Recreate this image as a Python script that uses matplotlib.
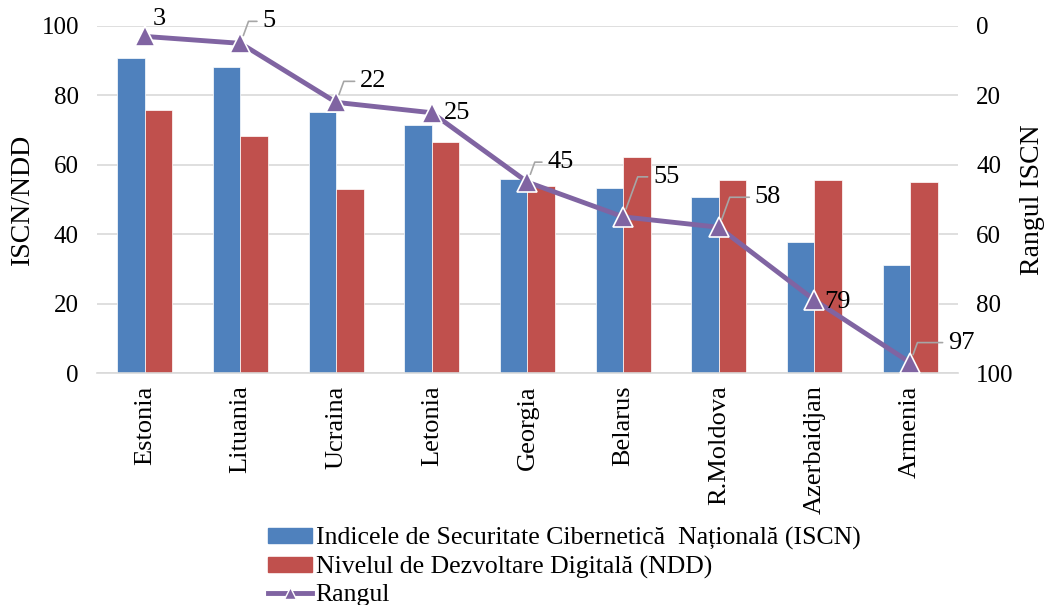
import numpy as np
import matplotlib.pyplot as plt
from matplotlib.lines import Line2D
from matplotlib.patches import Patch

plt.rcParams['font.family'] = ['Liberation Serif', 'DejaVu Serif']

countries = ["Estonia", "Lituania", "Ucraina", "Letonia", "Georgia",
             "Belarus", "R.Moldova", "Azerbaidjan", "Armenia"]
iscn = [90.9, 88.3, 75.3, 71.4, 55.8, 53.2, 50.6, 37.7, 31.2]
ndd = [75.9, 68.4, 53.0, 66.5, 54.0, 62.2, 55.7, 55.5, 55.0]
rang = [3, 5, 22, 25, 45, 55, 58, 79, 97]

# label offsets (pixels) and whether a leader line is drawn
label_off = [(8, 17), (22, 22), (24, 21), (12, 0), (20, 20), (30, 40), (36, 30), (10, -2), (38, 20)]
leader = [False, True, True, False, True, True, True, False, True]

blue = "#4F81BD"
red = "#C0504D"
purple = "#8064A2"

fig = plt.figure(figsize=(10.45, 6.05), dpi=100)
ax = fig.add_axes([97 / 1045, 1 - 373 / 605, 861 / 1045, 347 / 605])

x = np.arange(len(countries))
w = 0.286
ax.bar(x - w / 2, iscn, w, color=blue, edgecolor="white", linewidth=0.5, zorder=2)
ax.bar(x + w / 2, ndd, w, color=red, edgecolor="white", linewidth=0.5, zorder=2)

ax.set_xlim(-0.5, len(countries) - 0.5)
ax.set_ylim(0, 100)
ax.set_yticks(range(0, 101, 20))
ax.yaxis.grid(True, color="#D9D9D9", linewidth=1.2, zorder=0)
ax.set_axisbelow(True)
for s in ["top", "right", "left"]:
    ax.spines[s].set_visible(False)
ax.spines["bottom"].set_color("#D9D9D9")
ax.spines["bottom"].set_linewidth(1.2)
ax.tick_params(length=0, labelsize=18)
ax.tick_params(axis="y", pad=13)
ax.set_xticks(x)
ax.set_xticklabels(countries, rotation=90, fontsize=19)
ax.tick_params(axis="x", pad=9)
ax.set_ylabel("ISCN/NDD", fontsize=20, labelpad=5)

ax2 = ax.twinx()
ax2.set_ylim(100, 0)
ax2.set_yticks(range(0, 101, 20))
for s in ax2.spines.values():
    s.set_visible(False)
ax2.tick_params(length=0, labelsize=18, pad=13)
ax2.set_ylabel("Rangul ISCN", fontsize=20, labelpad=5)
ax2.plot(x, rang, color=purple, linewidth=3.5, marker="^", markersize=14,
         markerfacecolor=purple, markeredgecolor="white", markeredgewidth=1.2,
         zorder=3, clip_on=False)

for i, r in enumerate(rang):
    dx, dy = label_off[i]
    if leader[i]:
        ax2.annotate(str(r), xy=(x[i], r), xytext=(dx, dy), textcoords="offset pixels",
                     fontsize=19, va="center", ha="left",
                     arrowprops=dict(arrowstyle="-", color="#A6A6A6", linewidth=1.2,
                                     shrinkA=2, shrinkB=6,
                                     connectionstyle="angle,angleA=0,angleB=70,rad=0"))
    else:
        ax2.annotate(str(r), xy=(x[i], r), xytext=(dx, dy), textcoords="offset pixels",
                     fontsize=19, va="center", ha="left")

handles = [Patch(color=blue), Patch(color=red),
           Line2D([0], [0], color=purple, linewidth=3.5, marker="^", markersize=8,
                  markerfacecolor=purple, markeredgecolor="white")]
labels = ["Indicele de Securitate Cibernetică  Națională (ISCN)",
          "Nivelul de Dezvoltare Digitală (NDD)", "Rangul"]
fig.legend(handles, labels, loc="upper left", bbox_to_anchor=(268 / 1045, 1 - 527 / 605),
           frameon=False, fontsize=18.5, handlelength=1.7, handleheight=0.55,
           labelspacing=0.22, handletextpad=0.15, borderpad=0, borderaxespad=0)

fig.savefig("out.png", dpi=100)
